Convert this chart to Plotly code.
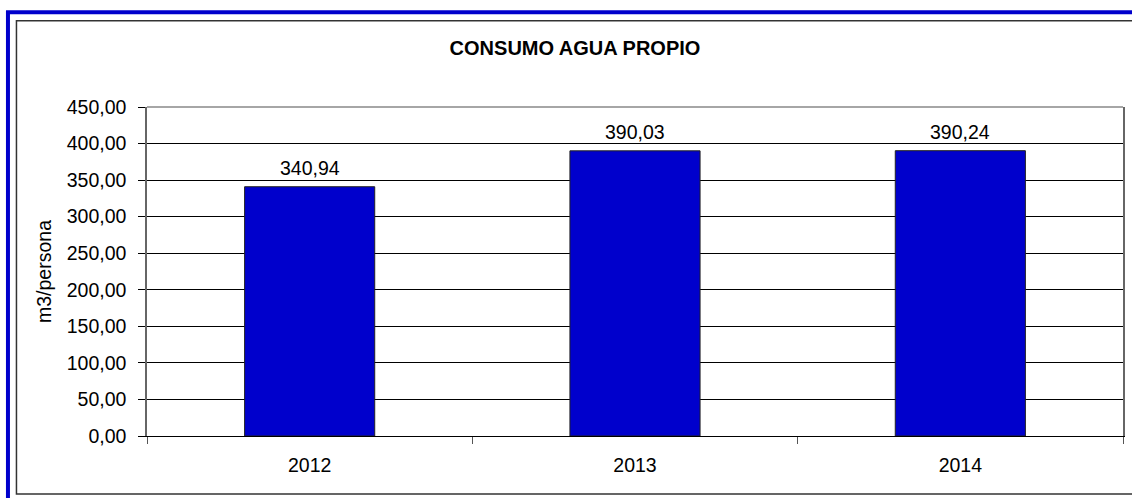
import plotly.graph_objects as go

years = ["2012", "2013", "2014"]
consumo = [340.94, 390.03, 390.24]
y_ticks = [0, 50, 100, 150, 200, 250, 300, 350, 400, 450]

W, H = 1132, 498
L, R, T, B = 147, 1122.7, 107, 436.5
pw, ph = R - L, B - T

def px(x):
    return (x - L) / pw

def py(y):
    return (B - y) / ph

FONT = "Liberation Sans, Arial, sans-serif"
FS = 19.5

fig = go.Figure()
fig.add_trace(go.Bar(
    x=years, y=consumo, width=0.4,
    marker=dict(color="#0000CC", line=dict(color="#222222", width=1)),
    hoverinfo="skip",
))

for i, v in enumerate(consumo):
    fig.add_annotation(
        x=i, y=v, xref="x", yref="y", text=f"{v:.2f}".replace(".", ","),
        showarrow=False, yanchor="bottom", xanchor="center", yshift=6,
        font=dict(family=FONT, size=FS, color="#000000"),
    )

fig.update_layout(
    width=W, height=H,
    margin=dict(l=L, r=W - R, t=T, b=H - B, autoexpand=False),
    paper_bgcolor="white", plot_bgcolor="white",
    separators=",.",
    showlegend=False,
    font=dict(family=FONT, size=FS, color="#000000"),
    title=dict(text="<b>CONSUMO AGUA PROPIO</b>", x=575 / W, xref="container",
               xanchor="center", y=1 - 48 / H, yref="container", yanchor="middle",
               font=dict(family=FONT, size=20, color="#000000")),
    xaxis=dict(
        type="category", range=[-0.5, len(years) - 0.5],
        showline=True, linecolor="#000000", linewidth=1,
        ticks="outside", tickson="boundaries", ticklen=7, tickcolor="#555555",
        showgrid=False, ticklabelstandoff=12,
        tickfont=dict(family=FONT, size=FS, color="#000000"),
    ),
    yaxis=dict(
        range=[0, 450], tickvals=y_ticks, tickformat=".2f",
        showline=True, linecolor="#666666", linewidth=1.5, mirror=True,
        ticks="outside", ticklen=7, tickcolor="#000000",
        showgrid=True, gridcolor="#000000", gridwidth=1, zeroline=False,
        ticklabelstandoff=8,
        tickfont=dict(family=FONT, size=FS, color="#000000"),
        title=dict(text="m3/persona", standoff=10,
                   font=dict(family=FONT, size=FS, color="#000000")),
    ),
    shapes=[
        dict(type="line", xref="paper", yref="paper", x0=0, x1=1, y0=1, y1=1,
             line=dict(color="#888888", width=1.5), layer="above"),
        dict(type="rect", xref="paper", yref="paper",
             x0=px(16.5), x1=px(1200), y0=py(20.5), y1=py(494.5),
             line=dict(color="#333333", width=1.5), layer="above"),
        dict(type="rect", xref="paper", yref="paper",
             x0=px(8), x1=px(1200), y0=py(12), y1=py(540),
             line=dict(color="#0000CC", width=4), layer="above"),
    ],
)

fig.write_html("out.html", config={"displayModeBar": False},
               post_script="document.body.style.margin='0';")
